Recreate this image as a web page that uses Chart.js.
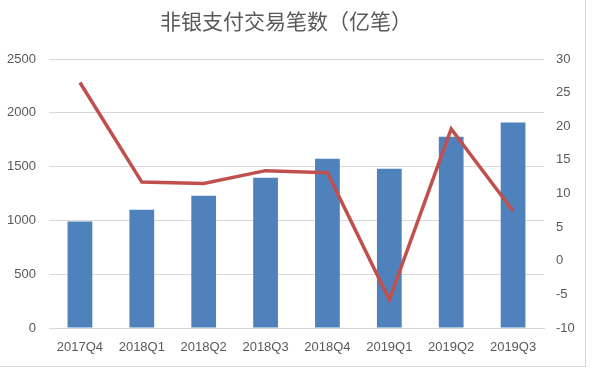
<!DOCTYPE html>
<html>
<head>
<meta charset="utf-8">
<script src="https://cdn.jsdelivr.net/npm/chart.js@4/dist/chart.umd.min.js"></script>
<style>
  html, body { margin: 0; padding: 0; background: #fff; }
  #wrap {
    position: absolute; left: 0; top: 0;
    width: 585px; height: 366px;
    border-right: 1px solid #d9d9d9;
    border-bottom: 1px solid #d9d9d9;
  }
</style>
</head>
<body>
<div id="wrap"><canvas id="chart" width="585" height="366"></canvas></div>
<script>
// Chart data
const titleText = '非银支付交易笔数（亿笔）';
const quarters = ['2017Q4', '2018Q1', '2018Q2', '2018Q3', '2018Q4', '2019Q1', '2019Q2', '2019Q3'];
const txCounts = [990, 1100, 1230, 1397, 1574, 1480, 1778, 1909];   // 亿笔, left axis
const growthRate = [26.5, 11.7, 11.5, 13.4, 13.1, -5.8, 19.6, 7.4]; // right axis

// draws the title a little left of centre, like the original
const titlePlugin = {
    id: 'fixedTitle',
    afterDraw(chart) {
        const ctx = chart.ctx;
        ctx.save();
        ctx.font = '21px "Noto Sans CJK SC"';
        ctx.fillStyle = '#595959';
        ctx.textAlign = 'center';
        ctx.textBaseline = 'middle';
        ctx.fillText(titleText, 286, 21);
        ctx.restore();
    }
};

const tickFont = { family: '"Liberation Sans", Arial, sans-serif', size: 13 };
const plain = v => String(v); // no thousands separator

new Chart(document.getElementById('chart'), {
    data: {
        labels: quarters,
        datasets: [{
            type: 'line',
            data: growthRate,
            yAxisID: 'y2',
            borderColor: '#C0504D',
            borderWidth: 3.5,
            pointRadius: 0,
            tension: 0,
            order: 0
        }, {
            type: 'bar',
            data: txCounts,
            yAxisID: 'y',
            backgroundColor: '#4F81BD',
            categoryPercentage: 1,
            barPercentage: 0.4,
            order: 1
        }]
    },
    options: {
        responsive: false,
        animation: false,
        layout: { padding: { top: 59, left: 0, right: 0, bottom: 0 } },
        plugins: {
            legend: { display: false },
            title: { display: false },
            tooltip: { enabled: false }
        },
        scales: {
            x: {
                grid: { display: false, drawTicks: false },
                border: { color: '#d9d9d9' },
                ticks: { color: '#595959', font: tickFont, padding: 12, maxRotation: 0 },
                afterFit(s) { s.height = 38; }
            },
            y: {
                position: 'left',
                min: 0, max: 2500,
                ticks: { stepSize: 500, color: '#595959', font: tickFont, padding: 13, callback: plain },
                grid: { color: '#d9d9d9', drawTicks: false },
                border: { display: false },
                afterFit(s) { s.width = 49; }
            },
            y2: {
                position: 'right',
                min: -10, max: 30,
                ticks: { stepSize: 5, color: '#595959', font: tickFont, padding: 12, callback: plain },
                grid: { display: false, drawTicks: false },
                border: { display: false },
                afterFit(s) { s.width = 41; }
            }
        }
    },
    plugins: [titlePlugin]
});
</script>
</body>
</html>
